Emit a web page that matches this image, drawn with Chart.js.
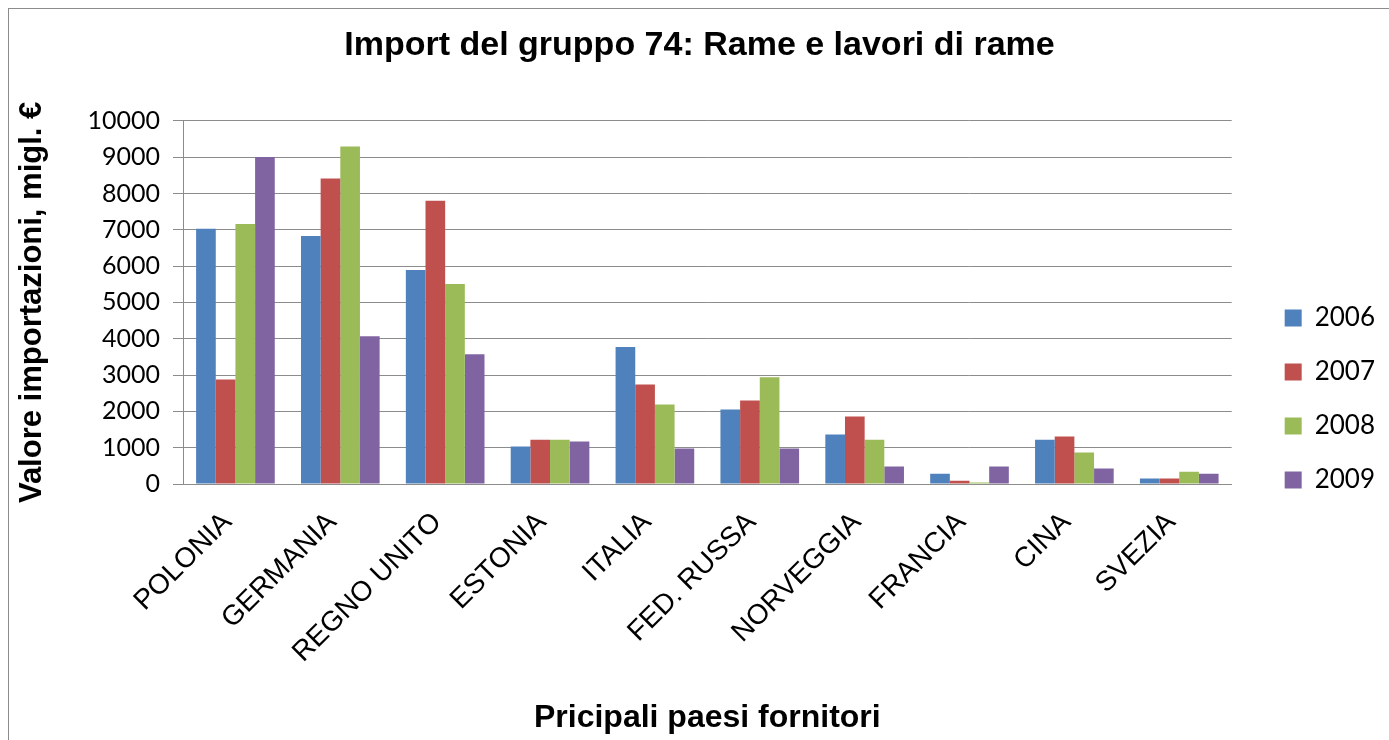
<!DOCTYPE html>
<html>
<head>
<meta charset="utf-8">
<script src="https://cdn.jsdelivr.net/npm/chart.js@4.4.0/dist/chart.umd.min.js"></script>
<style>
    html, body { margin: 0; padding: 0; background: #fff; }
    #box { width: 1389px; height: 740px; }
</style>
</head>
<body>
<div id="box"><canvas id="ImportChart"></canvas></div>
<script>
var Paesi = ['POLONIA', 'GERMANIA', 'REGNO UNITO', 'ESTONIA', 'ITALIA', 'FED. RUSSA', 'NORVEGGIA', 'FRANCIA', 'CINA', 'SVEZIA'];
var Anni = ['2006', '2007', '2008', '2009'];
var Val2006 = [7030, 6830, 5890, 1030, 3770, 2050, 1360, 280, 1220, 150];
var Val2007 = [2880, 8410, 7800, 1220, 2740, 2300, 1860, 90, 1310, 150];
var Val2008 = [7160, 9290, 5510, 1220, 2190, 2940, 1220, 40, 870, 340];
var Val2009 = [9000, 4070, 3570, 1170, 980, 980, 480, 480, 430, 280];
var YTicks = [0, 1000, 2000, 3000, 4000, 5000, 6000, 7000, 8000, 9000, 10000];

const colors = ['#4F81BD', '#C0504D', '#9BBB59', '#8064A2'];

var outerBorder = {
    id: 'outerBorder',
    beforeDraw: function (chart) {
        var ctx = chart.ctx;
        ctx.save();
        ctx.strokeStyle = '#8c8c8c';
        ctx.lineWidth = 1;
        ctx.strokeRect(8.5, 8.5, chart.width + 20, chart.height + 20);
        ctx.restore();
    }
};

var serie = [Val2006, Val2007, Val2008, Val2009];
var datasets = [];
for (var i = 0; i < Anni.length; i++)
{
    datasets[i] = {
        label: Anni[i],
        data: serie[i],
        backgroundColor: colors[i],
        categoryPercentage: 0.75,
        barPercentage: 1.0
    };
}

new Chart(document.getElementById("ImportChart"), {
    type: 'bar',
    data: {
        labels: Paesi,
        datasets: datasets
    },
    plugins: [outerBorder],
    options: {
        responsive: true,
        maintainAspectRatio: false,
        animation: false,
        layout: {
            padding: { left: 14, right: 4, top: 0, bottom: 0 }
        },
        plugins: {
            legend: {
                position: 'right',
                title: {
                    display: true,
                    text: ' ',
                    font: { size: 10 },
                    padding: 23
                },
                labels: {
                    boxWidth: 17,
                    boxHeight: 17,
                    padding: 28,
                    color: '#000',
                    font: { family: 'Lato', size: 26 }
                }
            },
            title: {
                display: true,
                text: 'Import del gruppo 74: Rame e lavori di rame',
                color: '#000',
                font: { family: 'Liberation Sans', size: 34, weight: 'bold' },
                padding: { top: 25, bottom: 55 }
            },
            tooltip: { enabled: false }
        },
        scales: {
            x: {
                grid: { display: false },
                border: { color: '#8c8c8c' },
                afterFit: function (scale) { scale.height = 256; },
                ticks: {
                    color: '#000',
                    minRotation: 45,
                    maxRotation: 45,
                    padding: 14,
                    labelOffset: -8,
                    font: { family: 'Liberation Sans', size: 28 }
                },
                title: {
                    display: true,
                    text: 'Pricipali paesi fornitori',
                    color: '#000',
                    font: { family: 'Liberation Sans', size: 32, weight: 'bold' },
                    padding: { top: 0, bottom: 3 }
                }
            },
            y: {
                min: 0,
                max: 10000,
                afterBuildTicks: function (axis) {
                    axis.ticks = YTicks.map(function (v) { return { value: v }; });
                },
                afterFit: function (scale) { scale.width = 169; },
                grid: { color: '#8c8c8c', tickLength: 10 },
                border: { color: '#8c8c8c' },
                ticks: {
                    color: '#000',
                    padding: 13,
                    font: { family: 'Lato', size: 25 },
                    callback: function (v) { return String(v); }
                },
                title: {
                    display: true,
                    text: 'Valore importazioni, migl. €',
                    color: '#000',
                    font: { family: 'Liberation Sans', size: 31, weight: 'bold' },
                    padding: { top: 0, bottom: 0 }
                }
            },
            spazio: {
                type: 'linear',
                position: 'right',
                display: true,
                afterFit: function (scale) { scale.width = 25; },
                grid: { display: false },
                border: { display: false },
                ticks: { display: false }
            }
        }
    }
});
</script>
</body>
</html>
